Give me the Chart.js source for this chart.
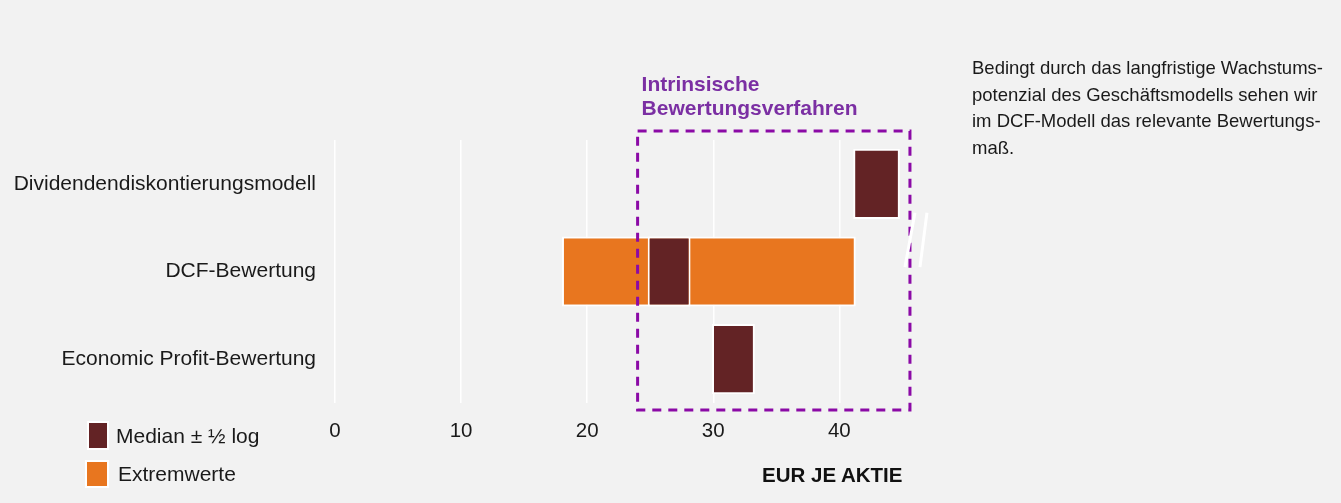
<!DOCTYPE html>
<html>
<head>
<meta charset="utf-8">
<script src="https://cdn.jsdelivr.net/npm/chart.js@4.4.1/dist/chart.umd.min.js"></script>
<style>
  body { margin: 0; background: #f2f2f2; font-family: "Liberation Sans", Arial, sans-serif; }
  #wrap { position: relative; width: 1341px; height: 503px; }
  #chart { position: absolute; left: 0; top: 0; }
  .swatch { position: absolute; border: 2px solid #fff; }
  .ltext { position: absolute; font-size: 21px; line-height: 24px; color: #1a1a1a; white-space: nowrap; }
  #note { position: absolute; left: 972px; top: 55px; width: 370px; font-size: 18.5px; line-height: 26.5px; color: #1a1a1a; }
  #unit { position: absolute; left: 762px; top: 463px; font-size: 20.5px; line-height: 24px; font-weight: bold; color: #111; letter-spacing: 0; }
</style>
</head>
<body>
<div id="wrap">
  <canvas id="chart" width="1341" height="503"></canvas>
  <div class="swatch" style="left:87px;top:421px;width:18px;height:25px;background:#632325"></div>
  <div class="ltext" style="left:116px;top:424px">Median ± ½ log</div>
  <div class="swatch" style="left:85px;top:460px;width:20px;height:24px;background:#e8761f"></div>
  <div class="ltext" style="left:118px;top:462px">Extremwerte</div>
  <div id="note">Bedingt durch das langfristige Wachstums-<br>potenzial des Geschäftsmodells sehen wir<br>im DCF-Modell das relevante Bewertungs-<br>maß.</div>
  <div id="unit">EUR JE AKTIE</div>
</div>
<script>
const methods = ['Dividendendiskontierungsmodell', 'DCF-Bewertung', 'Economic Profit-Bewertung'];
const medianRange = [[41.1, 44.8], [24.8, 28.2], [29.9, 33.3]];
const extremeRange = [null, [18.0, 41.3], null];
const xTicks = [0, 10, 20, 30, 40];
const boxTitle = ['Intrinsische', 'Bewertungsverfahren'];
const boxFrom = 24;
const boxTo = 45.6;

const ctx = document.querySelector('#chart').getContext('2d');

// dashed frame, its title and the axis break marks
const boxPlugin = {
  id: 'boxPlugin',
  afterDraw(chart) {
    const c = chart.ctx;
    const x = chart.scales.x;
    const y = chart.scales.y;
    const area = chart.chartArea;
    const left = x.getPixelForValue(boxFrom);
    const right = x.getPixelForValue(boxTo);
    const top = area.top - 9;
    const bottom = area.bottom + 7;

    c.save();
    c.strokeStyle = '#8b0aa6';
    c.lineWidth = 3;
    c.setLineDash([9, 7]);
    c.strokeRect(left, top, right - left, bottom - top);
    c.setLineDash([]);

    c.fillStyle = '#7b2fa3';
    c.font = 'bold 21px "Liberation Sans", Arial, sans-serif';
    c.textBaseline = 'middle';
    c.fillText(boxTitle[0], left + 4, top - 46);
    c.fillText(boxTitle[1], left + 4, top - 22);

    // break marks
    const t = y.getPixelForValue(0.33);
    const b = y.getPixelForValue(0.95);
    c.strokeStyle = '#ffffff';
    c.lineWidth = 3;
    c.beginPath();
    c.moveTo(right + 5, t); c.lineTo(right - 5, b);
    c.moveTo(right + 17, t); c.lineTo(right + 10, b);
    c.stroke();
    c.restore();
  },
};

new Chart(ctx, {
  type: 'bar',
  data: {
    labels: methods,
    datasets: [
      {
        label: 'Median ± ½ log',
        data: medianRange,
        backgroundColor: '#632325',
        borderColor: '#ffffff',
        borderWidth: 2,
        borderSkipped: false,
        grouped: false,
        barPercentage: 0.8,
        categoryPercentage: 1,
      },
      {
        label: 'Extremwerte',
        data: extremeRange,
        backgroundColor: '#e8761f',
        borderColor: '#ffffff',
        borderWidth: 2,
        borderSkipped: false,
        grouped: false,
        barPercentage: 0.8,
        categoryPercentage: 1,
      },
    ],
  },
  options: {
    indexAxis: 'y',
    responsive: false,
    animation: false,
    layout: { padding: { left: 0, right: 426, top: 140, bottom: 0 } },
    plugins: { legend: { display: false }, tooltip: { enabled: false } },
    scales: {
      x: {
        min: 0,
        max: 46,
        afterFit: (s) => { s.height = 100; },
        afterBuildTicks: (s) => { s.ticks = xTicks.map((v) => ({ value: v })); },
        border: { display: false },
        grid: { color: '#ffffff', lineWidth: 1.5, drawTicks: false },
        ticks: { color: '#1a1a1a', font: { size: 20.5, family: '"Liberation Sans", Arial, sans-serif' }, padding: 16 },
      },
      y: {
        afterFit: (s) => { s.width = 335; },
        border: { display: false },
        grid: { display: false, drawTicks: false },
        ticks: { color: '#1a1a1a', font: { size: 21, family: '"Liberation Sans", Arial, sans-serif' }, padding: 19 },
      },
    },
  },
  plugins: [boxPlugin],
});
</script>
</body>
</html>
